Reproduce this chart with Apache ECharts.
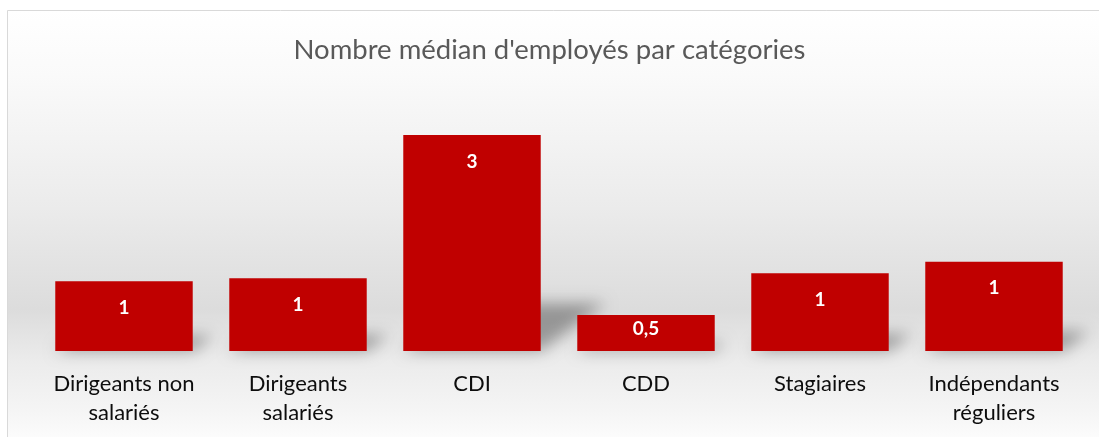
<!DOCTYPE html>
<html>
<head>
<meta charset="utf-8">
<script src="https://cdn.jsdelivr.net/npm/echarts@6/dist/echarts.min.js"></script>
<style>
  html, body { margin: 0; padding: 0; background: #fff; }
  #chart { width: 1099px; height: 437px; }
</style>
</head>
<body>
<div id="chart"></div>
<script>
// données
const categories = ['Dirigeants non\nsalariés', 'Dirigeants\nsalariés', 'CDI', 'CDD', 'Stagiaires', 'Indépendants\nréguliers']
const values = [0.97, 1.01, 3, 0.5, 1.08, 1.24]
const valueLabels = ['1', '1', '3', '0,5', '1', '1']

const chart = echarts.init(document.getElementById('chart'))

const barData = values.map(v => ({
  value: v,
  label: v < 0.6 ? { position: 'insideTop', distance: 4 } : undefined
}))

// ombre portée en perspective derrière chaque barre
const renderShadow = (params, api) => {
  const idx = api.value(0)
  const top = api.coord([idx, api.value(1)])
  const base = api.coord([idx, 0])
  const w = api.size([1, 0])[0] * 0.79
  const h = base[1] - top[1]
  const xl = base[0] - w / 2
  const xr = base[0] + w / 2
  const dy = h * 0.22
  const dx = h * 0.3
  const off = 3000
  return {
    type: 'polygon',
    shape: {
      points: [
        [xl, base[1] + off],
        [xr, base[1] + off],
        [xr + dx, base[1] - dy + off],
        [xl + dx, base[1] - dy + off]
      ]
    },
    style: {
      fill: '#000',
      shadowColor: 'rgba(0,0,0,0.33)',
      shadowBlur: 15,
      shadowOffsetX: 0,
      shadowOffsetY: -off
    }
  }
}

chart.setOption({
  animation: false,
  textStyle: { fontFamily: 'Lato' },
  graphic: [
    {
      type: 'rect',
      z: -10,
      shape: { x: 7.5, y: 10.5, width: 1100, height: 440 },
      style: {
        stroke: '#d9d9d9',
        lineWidth: 1,
        fill: new echarts.graphic.LinearGradient(0, 0, 0, 1, [
          { offset: 0, color: '#ffffff' },
          { offset: 0.15, color: '#fafafa' },
          { offset: 0.45, color: '#ebebeb' },
          { offset: 0.68, color: '#dcdcdc' },
          { offset: 0.8, color: '#ececec' },
          { offset: 0.9, color: '#f4f4f4' },
          { offset: 1, color: '#ffffff' }
        ])
      }
    }
  ],
  title: {
    text: "Nombre médian d'employés par catégories",
    left: 'center',
    top: 31,
    textStyle: { fontFamily: 'Lato', fontSize: 27.5, fontWeight: 'normal', color: '#595959' }
  },
  grid: { left: 37, right: 18, top: 99, bottom: 86 },
  xAxis: {
    type: 'category',
    data: categories,
    axisLine: { show: false },
    axisTick: { show: false },
    axisLabel: {
      color: '#0d0d0d',
      fontSize: 22,
      lineHeight: 29,
      margin: 18,
      interval: 0
    }
  },
  yAxis: {
    type: 'value',
    min: 0,
    max: 3.5,
    show: false,
    splitLine: { show: false }
  },
  series: [
    {
      type: 'custom',
      renderItem: renderShadow,
      data: values.map((v, i) => [i, v]),
      encode: { x: 0, y: 1 },
      z: 1,
      silent: true
    },
    {
      type: 'bar',
      data: barData,
      barWidth: '79%',
      z: 2,
      itemStyle: { color: '#c00000' },
      label: {
        show: true,
        position: 'insideTop',
        distance: 17,
        color: '#ffffff',
        fontWeight: 'bold',
        fontSize: 19,
        formatter: p => valueLabels[p.dataIndex]
      }
    }
  ]
})
</script>
</body>
</html>
